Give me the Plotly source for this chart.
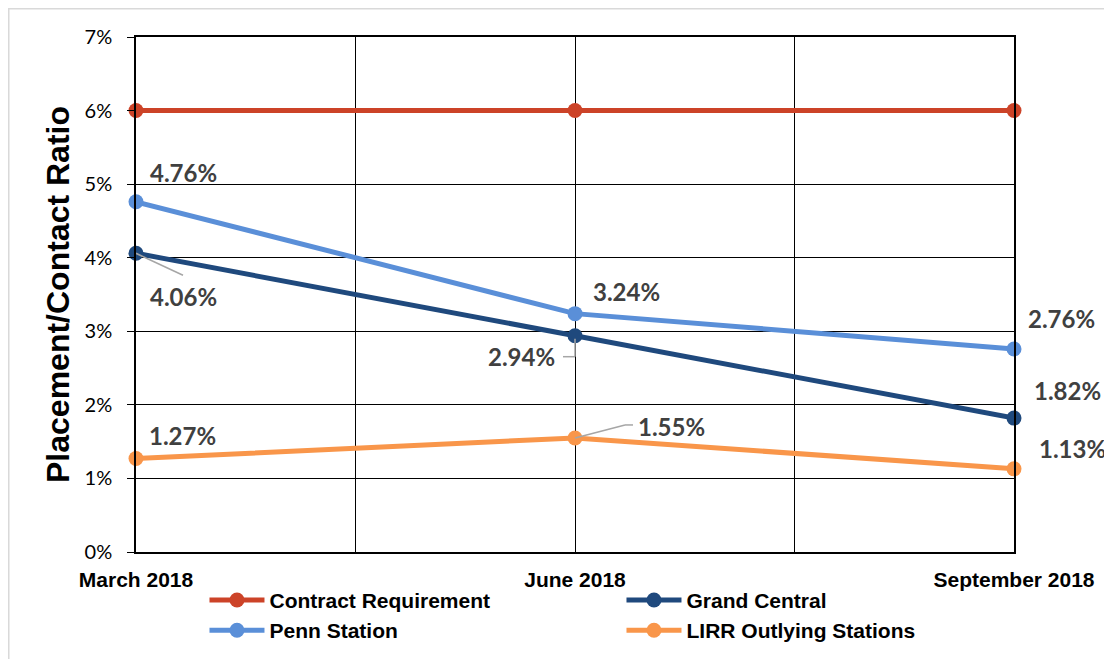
import plotly.graph_objects as go

# ---------------- data ----------------
months = ["March 2018", "June 2018", "September 2018"]
x_idx = [0, 1, 2]
contract_requirement = [6.00, 6.00, 6.00]
grand_central = [4.06, 2.94, 1.82]
penn_station = [4.76, 3.24, 2.76]
lirr_outlying = [1.27, 1.55, 1.13]
y_tick_vals = [0, 1, 2, 3, 4, 5, 6, 7]
y_tick_text = [f"{v}%" for v in y_tick_vals]

series_names = ["Contract Requirement", "Grand Central", "Penn Station", "LIRR Outlying Stations"]
series_values = [contract_requirement, grand_central, penn_station, lirr_outlying]
series_colors = ["#CC4328", "#1F497D", "#5A8FD8", "#F9964A"]

# data label placement (pixel offsets from the point: right, up)
label_offsets = {
    "Grand Central": [(47, -43), (-54, -21), (53, 28)],
    "Penn Station": [(47, 29), (51, 22), (47, 30)],
    "LIRR Outlying Stations": [(46, 23), (96, 11), (58, 20)],
}
# leader lines: (series, point index, list of pixel vertices relative to point)
leaders = [
    ("Grand Central", 0, [(0, 0), (47, -22)]),
    ("Grand Central", 1, [(0, -3), (0, -21), (-12, -21)]),
    ("LIRR Outlying Stations", 1, [(0, 0), (50, 13), (58, 13)]),
    ("Penn Station", 2, [(0, 0), (48, 12)]),
    ("LIRR Outlying Stations", 2, [(0, 0), (5, 21), (16, 21)]),
]

fig = go.Figure()
for name, vals, col in zip(series_names, series_values, series_colors):
    fig.add_trace(go.Scatter(
        x=x_idx, y=vals, name=name, mode="lines+markers",
        line=dict(color=col, width=5),
        marker=dict(color=col, size=15),
        cliponaxis=False,
    ))

values_by_name = dict(zip(series_names, series_values))
annotations = []
for name, offs in label_offsets.items():
    for i, off in enumerate(offs):
        v = values_by_name[name][i]
        annotations.append(dict(
            x=x_idx[i], y=v, xref="x", yref="y", text=f"{v:.2f}%",
            showarrow=False, xshift=off[0], yshift=off[1],
            font=dict(family="Lato", size=24, color="#404040", weight="bold"),
        ))

shapes = []
for name, i, pts in leaders:
    v = values_by_name[name][i]
    for (a, b), (c, d) in zip(pts[:-1], pts[1:]):
        shapes.append(dict(
            type="line", xref="x", yref="y", xsizemode="pixel", ysizemode="pixel",
            xanchor=x_idx[i], yanchor=v, x0=a, y0=b, x1=c, y1=d,
            line=dict(color="#A6A6A6", width=1.5), layer="above",
        ))
# chart area border
shapes.append(dict(type="rect", xref="paper", yref="paper",
                   x0=-0.1452, y0=-0.4, x1=1.3, y1=1.0553,
                   line=dict(color="#D9D9D9", width=2), layer="below"))

fig.update_layout(
    width=1112, height=659,
    margin=dict(l=128, r=106, t=29, b=115),
    paper_bgcolor="white", plot_bgcolor="white",
    showlegend=True,
    legend=dict(
        orientation="h", x=0.078, y=-0.054, xanchor="left", yanchor="top",
        entrywidth=347, entrywidthmode="pixels", itemwidth=55,
        font=dict(family="Liberation Sans", size=21, color="black", weight="bold"),
        bgcolor="rgba(0,0,0,0)",
    ),
    xaxis=dict(
        range=[0, 2], automargin=False,
        tickmode="array",
        tickvals=[0, 0.5, 1, 1.5, 2],
        ticktext=[months[0], "", months[1], "", months[2]],
        showgrid=True, gridcolor="#000000", gridwidth=1,
        showline=True, linecolor="#000000", linewidth=1.5, mirror=True,
        ticks="", zeroline=False, ticklabelstandoff=8,
        tickfont=dict(family="Liberation Sans", size=21, color="black", weight="bold"),
    ),
    yaxis=dict(
        range=[0, 7], automargin=False,
        tickmode="array", tickvals=y_tick_vals, ticktext=y_tick_text,
        showgrid=True, gridcolor="#000000", gridwidth=1,
        showline=True, linecolor="#000000", linewidth=1.5, mirror=True,
        ticks="outside", ticklen=7, tickcolor="#000000", tickwidth=1,
        ticklabelstandoff=11,
        zeroline=False,
        tickfont=dict(family="Lato", size=20, color="black"),
        title=dict(text="Placement/Contact Ratio", standoff=5,
                   font=dict(family="Liberation Sans", size=32, color="black", weight="bold")),
    ),
    annotations=annotations,
    shapes=shapes,
)

fig.write_html("out.html")
